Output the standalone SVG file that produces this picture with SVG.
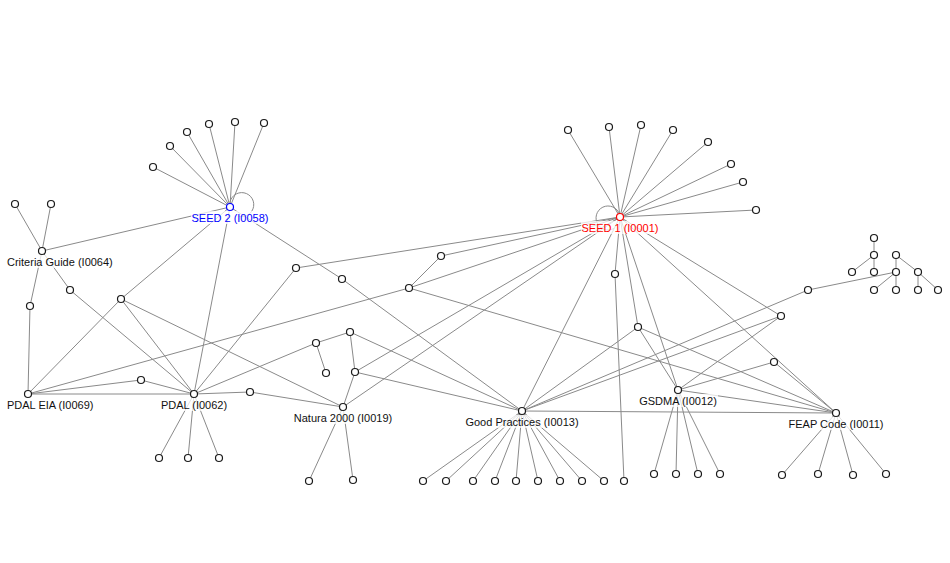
<svg xmlns="http://www.w3.org/2000/svg" width="950" height="563" viewBox="0 0 950 563">
<style>
.e{stroke:#8a8a8a;stroke-width:1;fill:none}
.n{fill:#fff;stroke:#1a1a1a;stroke-width:1.2}
.lb{fill:#fff;fill-opacity:0.75}
.t{font-family:"Liberation Sans",Arial,sans-serif;font-size:11px;fill:#111}
</style>
<rect width="950" height="563" fill="#fff"/>
<g id="edges" class="e">
<!-- SEED 1 -->
<path d="M620,217L568,130M620,217L609,127M620,217L641,125M620,217L673,130M620,217L708,142M620,217L731,164M620,217L743,182M620,217L756,210"/>
<path d="M620,217A12,12 0 1 0 614,228.4"/>
<path d="M620,217L296,268M620,217L441,256M620,217L409,288M620,217L355,372M620,217L343,407M620,217L522,411M620,217L615,274M620,217L638,327M620,217L678,390M620,217L781,316M620,217L836,413"/>
<path d="M615,274L624,481"/>
<!-- SEED 2 -->
<path d="M230,207L153,167M230,207L170,146M230,207L187,132M230,207L209,124M230,207L235,122M230,207L264,123"/>
<path d="M230,207A12,12 0 1 1 238,216"/>
<path d="M230,207L42,251M230,207L121,299M230,207L194,394M230,207L342,279"/>
<!-- Criteria Guide -->
<path d="M42,251L15,204M42,251L51,204M42,251L30,306M42,251L70,290"/>
<path d="M30,306L28,394M70,290L194,394"/>
<path d="M121,299L28,394M121,299L194,394M121,299L343,407"/>
<path d="M28,394L194,394M28,394L141,380M28,394L409,288M141,380L194,394"/>
<!-- PDAL -->
<path d="M194,394L159,458M194,394L188,458M194,394L219,458M194,394L250,392M194,394L296,268M194,394L316,343"/>
<path d="M250,392L343,407M342,279L522,411"/>
<path d="M316,343L326,373M316,343L350,332M350,332L355,372M350,332L522,411M355,372L343,407M355,372L522,411"/>
<path d="M343,407L309,481M343,407L353,480"/>
<path d="M409,288L441,256M409,288L836,413"/>
<!-- Good Practices -->
<path d="M522,411L423,481M522,411L446,481M522,411L473,481M522,411L495,481M522,411L516,481M522,411L538,481M522,411L560,481M522,411L582,481M522,411L604,481"/>
<path d="M522,411L638,327M522,411L781,316M522,411L808,290M522,411L836,413"/>
<path d="M638,327L678,390M638,327L836,413"/>
<!-- GSDMA -->
<path d="M678,390L654,474M678,390L676,474M678,390L698,474M678,390L720,474M678,390L781,316M678,390L774,362M678,390L836,413"/>
<path d="M774,362L836,413"/>
<!-- FEAP -->
<path d="M836,413L782,475M836,413L818,474M836,413L853,475M836,413L886,474"/>
<!-- cluster -->
<path d="M808,290L896,272M874,238L874,255M874,255L852,272M874,255L874,272M896,255L896,272M896,255L918,272M896,272L874,290M896,272L896,290M918,272L918,290M918,272L938,290"/>
</g>
<g id="seed1-children">
<circle class="n" cx="568" cy="130" r="3.5"/><circle class="n" cx="609" cy="127" r="3.5"/><circle class="n" cx="641" cy="125" r="3.5"/><circle class="n" cx="673" cy="130" r="3.5"/><circle class="n" cx="708" cy="142" r="3.5"/><circle class="n" cx="731" cy="164" r="3.5"/><circle class="n" cx="743" cy="182" r="3.5"/><circle class="n" cx="756" cy="210" r="3.5"/>
</g>
<g id="seed2-children">
<circle class="n" cx="153" cy="167" r="3.5"/><circle class="n" cx="170" cy="146" r="3.5"/><circle class="n" cx="187" cy="132" r="3.5"/><circle class="n" cx="209" cy="124" r="3.5"/><circle class="n" cx="235" cy="122" r="3.5"/><circle class="n" cx="264" cy="123" r="3.5"/>
</g>
<g id="small-nodes">
<circle class="n" cx="15" cy="204" r="3.5"/><circle class="n" cx="51" cy="204" r="3.5"/>
<circle class="n" cx="30" cy="306" r="3.5"/><circle class="n" cx="70" cy="290" r="3.5"/><circle class="n" cx="121" cy="299" r="3.5"/>
<circle class="n" cx="141" cy="380" r="3.5"/><circle class="n" cx="250" cy="392" r="3.5"/>
<circle class="n" cx="296" cy="268" r="3.5"/><circle class="n" cx="342" cy="279" r="3.5"/>
<circle class="n" cx="316" cy="343" r="3.5"/><circle class="n" cx="326" cy="373" r="3.5"/><circle class="n" cx="350" cy="332" r="3.5"/><circle class="n" cx="355" cy="372" r="3.5"/>
<circle class="n" cx="409" cy="288" r="3.5"/><circle class="n" cx="441" cy="256" r="3.5"/>
<circle class="n" cx="615" cy="274" r="3.5"/><circle class="n" cx="624" cy="481" r="3.5"/><circle class="n" cx="638" cy="327" r="3.5"/>
<circle class="n" cx="781" cy="316" r="3.5"/><circle class="n" cx="774" cy="362" r="3.5"/><circle class="n" cx="808" cy="290" r="3.5"/>
<circle class="n" cx="159" cy="458" r="3.5"/><circle class="n" cx="188" cy="458" r="3.5"/><circle class="n" cx="219" cy="458" r="3.5"/>
<circle class="n" cx="309" cy="481" r="3.5"/><circle class="n" cx="353" cy="480" r="3.5"/>
<circle class="n" cx="423" cy="481" r="3.5"/><circle class="n" cx="446" cy="481" r="3.5"/><circle class="n" cx="473" cy="481" r="3.5"/><circle class="n" cx="495" cy="481" r="3.5"/><circle class="n" cx="516" cy="481" r="3.5"/><circle class="n" cx="538" cy="481" r="3.5"/><circle class="n" cx="560" cy="481" r="3.5"/><circle class="n" cx="582" cy="481" r="3.5"/><circle class="n" cx="604" cy="481" r="3.5"/>
<circle class="n" cx="654" cy="474" r="3.5"/><circle class="n" cx="676" cy="474" r="3.5"/><circle class="n" cx="698" cy="474" r="3.5"/><circle class="n" cx="720" cy="474" r="3.5"/>
<circle class="n" cx="782" cy="475" r="3.5"/><circle class="n" cx="818" cy="474" r="3.5"/><circle class="n" cx="853" cy="475" r="3.5"/><circle class="n" cx="886" cy="474" r="3.5"/>
<circle class="n" cx="874" cy="238" r="3.5"/><circle class="n" cx="874" cy="255" r="3.5"/><circle class="n" cx="852" cy="272" r="3.5"/><circle class="n" cx="874" cy="272" r="3.5"/><circle class="n" cx="896" cy="255" r="3.5"/><circle class="n" cx="896" cy="272" r="3.5"/><circle class="n" cx="918" cy="272" r="3.5"/><circle class="n" cx="874" cy="290" r="3.5"/><circle class="n" cx="896" cy="290" r="3.5"/><circle class="n" cx="918" cy="290" r="3.5"/><circle class="n" cx="938" cy="290" r="3.5"/>
</g>
<g id="seed1">
<rect class="lb" x="581" y="221" width="78" height="13"/>
<circle class="n" cx="620" cy="217" r="3.5" style="stroke:#ff0000"/>
<text class="t" x="620" y="231.5" text-anchor="middle" style="fill:#ff0000">SEED 1 (I0001)</text>
</g>
<g id="seed2">
<rect class="lb" x="191" y="211" width="78" height="13"/>
<circle class="n" cx="230" cy="207" r="3.5" style="stroke:#0000ff"/>
<text class="t" x="230" y="221.5" text-anchor="middle" style="fill:#0000ff">SEED 2 (I0058)</text>
</g>
<g id="criteria-guide">
<rect class="lb" x="6" y="255" width="107" height="13"/>
<circle class="n" cx="42" cy="251" r="3.5"/>
<text class="t" x="7" y="265.5">Criteria Guide (I0064)</text>
</g>
<g id="pdal-eia">
<rect class="lb" x="6" y="398" width="89" height="13"/>
<circle class="n" cx="28" cy="394" r="3.5"/>
<text class="t" x="7" y="408.5">PDAL EIA (I0069)</text>
</g>
<g id="pdal">
<rect class="lb" x="160" y="398" width="68" height="13"/>
<circle class="n" cx="194" cy="394" r="3.5"/>
<text class="t" x="194" y="408.5" text-anchor="middle">PDAL (I0062)</text>
</g>
<g id="natura-2000">
<rect class="lb" x="293" y="411" width="100" height="13"/>
<circle class="n" cx="343" cy="407" r="3.5"/>
<text class="t" x="343" y="421.5" text-anchor="middle">Natura 2000 (I0019)</text>
</g>
<g id="good-practices">
<rect class="lb" x="465" y="415" width="114" height="13"/>
<circle class="n" cx="522" cy="411" r="3.5"/>
<text class="t" x="522" y="425.5" text-anchor="middle">Good Practices (I0013)</text>
</g>
<g id="gsdma">
<rect class="lb" x="638" y="394" width="80" height="13"/>
<circle class="n" cx="678" cy="390" r="3.5"/>
<text class="t" x="678" y="404.5" text-anchor="middle">GSDMA (I0012)</text>
</g>
<g id="feap-code">
<rect class="lb" x="788" y="417" width="97" height="13"/>
<circle class="n" cx="836" cy="413" r="3.5"/>
<text class="t" x="836" y="427.5" text-anchor="middle">FEAP Code (I0011)</text>
</g>
</svg>
